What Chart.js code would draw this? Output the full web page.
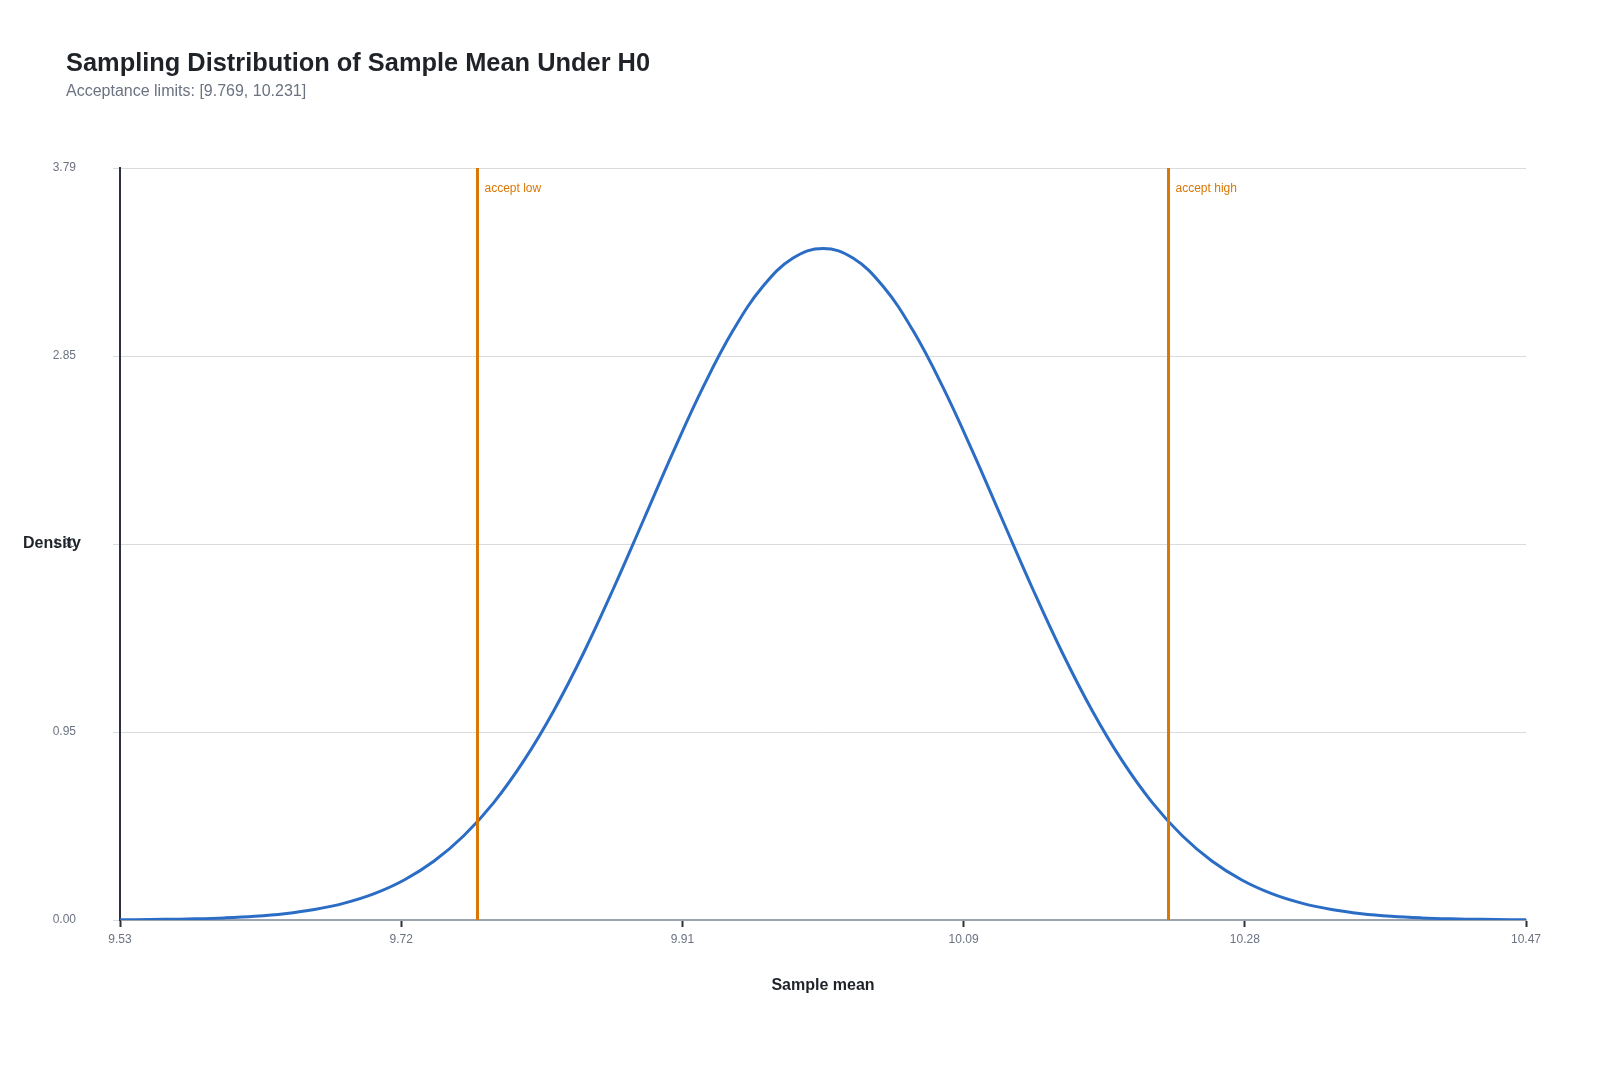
<!DOCTYPE html>
<html>
<head>
<meta charset="utf-8">
<script src="https://cdn.jsdelivr.net/npm/chart.js@4/dist/chart.umd.min.js"></script>
<style>
  body { margin: 0; background: #fff; font-family: "Liberation Sans", Arial, sans-serif; }
  #wrap { position: relative; width: 1600px; height: 1067px; }
  #title { position: absolute; left: 66px; top: 47px; font-size: 25.4px; font-weight: bold; color: #1f2328; line-height: 30px; }
  #subtitle { position: absolute; left: 66px; top: 81px; font-size: 16px; color: #6b7280; line-height: 19px; }
  canvas { position: absolute; left: 0; top: 0; }
</style>
</head>
<body>
<div id="wrap">
  <canvas id="myChart" width="1600" height="1067"></canvas>
  <div id="title">Sampling Distribution of Sample Mean Under H0</div>
  <div id="subtitle">Acceptance limits: [9.769, 10.231]</div>
</div>
<script>
// sample mean values (x) and the density
const sampleMeans = [9.53, 9.54, 9.56, 9.58, 9.60, 9.62, 9.64, 9.66, 9.68, 9.70, 9.72, 9.74,
  9.76, 9.78, 9.80, 9.82, 9.84, 9.86, 9.88, 9.90, 9.92, 9.94, 9.96, 9.98, 10.00,
  10.02, 10.04, 10.06, 10.08, 10.10, 10.12, 10.14, 10.16, 10.18, 10.20, 10.22, 10.24,
  10.26, 10.28, 10.30, 10.32, 10.34, 10.36, 10.38, 10.40, 10.42, 10.44, 10.46, 10.47]
const densities = [0.0012, 0.0017, 0.0032, 0.0059, 0.0107, 0.0188, 0.0320, 0.0529, 0.0851, 0.1329, 0.2017, 0.2975,
  0.426, 0.593, 0.803, 1.055, 1.347, 1.672, 2.016, 2.362, 2.688, 2.973, 3.195, 3.336, 3.384,
  3.336, 3.195, 2.973, 2.688, 2.362, 2.016, 1.672, 1.347, 1.055, 0.803, 0.593, 0.426,
  0.2975, 0.2017, 0.1329, 0.0851, 0.0529, 0.0320, 0.0188, 0.0107, 0.0059, 0.0032, 0.0017, 0.0012]

const acceptLimits = [9.769, 10.231]
const acceptNames = ["accept low", "accept high"]

const xTicks = [9.53, 9.718, 9.906, 10.094, 10.282, 10.47]
const yTicks = [0, 0.9475, 1.895, 2.8425, 3.79]
const yTickLabels = ["0.00", "0.95", "1.90", "2.85", "3.79"]

const BLUE = "#2b6cc4"
const ORANGE = "#d97706"
const FONT = "'Liberation Sans', Arial, sans-serif"

let curve = sampleMeans.map(function (x, i) { return { x: x, y: densities[i] } })

let limitSets = acceptLimits.map(function (v, i) {
  return {
    label: acceptNames[i],
    data: [{ x: v, y: 0 }, { x: v, y: yTicks[yTicks.length - 1] }],
    borderColor: ORANGE,
    borderWidth: 3,
    pointRadius: 0,
    order: 0
  }
})

// text labels next to the limit lines + the horizontal y title
const extraText = {
  id: "extraText",
  afterDatasetsDraw(chart) {
    const ctx = chart.ctx
    const xs = chart.scales.x
    const area = chart.chartArea
    ctx.save()
    ctx.font = "12px " + FONT
    ctx.fillStyle = ORANGE
    ctx.textBaseline = "middle"
    acceptLimits.forEach(function (v, i) {
      ctx.fillText(acceptNames[i], xs.getPixelForValue(v) + 7, area.top + 21)
    })
    ctx.restore()
  },
  afterDraw(chart) {
    const ctx = chart.ctx
    const area = chart.chartArea
    ctx.save()
    ctx.font = "bold 16px " + FONT
    ctx.fillStyle = "#1f2328"
    ctx.textBaseline = "middle"
    ctx.fillText("Density", 23, (area.top + area.bottom) / 2)
    ctx.restore()
  }
}

const ctx = document.getElementById("myChart").getContext("2d")
const chart = new Chart(ctx, {
  type: "line",
  data: {
    datasets: [{
      label: "density",
      data: curve,
      borderColor: BLUE,
      borderWidth: 3,
      pointRadius: 0,
      tension: 0.4,
      order: 1
    }].concat(limitSets)
  },
  options: {
    responsive: false,
    animation: false,
    layout: { padding: { top: 168, right: 74, bottom: 0, left: 0 } },
    plugins: { legend: { display: false }, tooltip: { enabled: false } },
    scales: {
      x: {
        type: "linear",
        min: 9.53,
        max: 10.47,
        afterFit(scale) { scale.height = 147 },
        afterBuildTicks(scale) { scale.ticks = xTicks.map(function (v) { return { value: v } }) },
        ticks: {
          color: "#6b7280",
          font: { size: 12, family: FONT },
          padding: 5,
          maxRotation: 0,
          callback: function (v) { return v.toFixed(2) }
        },
        grid: { drawOnChartArea: false, color: "#2d3139", tickLength: 7, tickWidth: 2 },
        border: { color: "#9ca3af", width: 2 },
        title: {
          display: true,
          text: "Sample mean",
          color: "#1f2328",
          font: { size: 16, weight: "bold", family: FONT },
          padding: { top: 0, bottom: 72 }
        }
      },
      y: {
        min: 0,
        max: 3.79,
        afterFit(scale) { scale.width = 120 },
        afterBuildTicks(scale) { scale.ticks = yTicks.map(function (v) { return { value: v } }) },
        ticks: {
          color: "#6b7280",
          font: { size: 12, family: FONT },
          padding: 37,
          callback: function (v, i) { return yTickLabels[i] }
        },
        grid: { color: "#d9dbde", tickLength: 7 },
        border: { color: "#2d3139", width: 2 }
      }
    }
  },
  plugins: [extraText]
})
</script>
</body>
</html>
